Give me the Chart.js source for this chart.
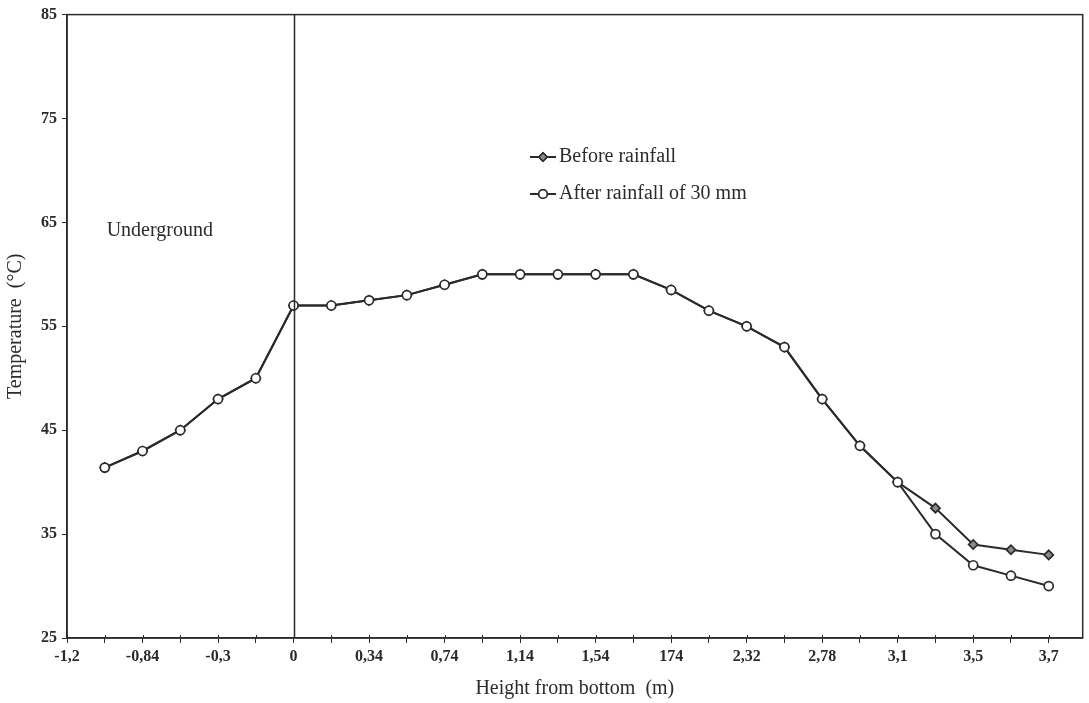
<!DOCTYPE html>
<html>
<head>
<meta charset="utf-8">
<script src="https://cdn.jsdelivr.net/npm/chart.js@4.4.0/dist/chart.umd.min.js"></script>
<style>
  html, body { margin: 0; padding: 0; background: #fff; }
  #wrap { width: 1089px; height: 703px; position: relative; }
</style>
</head>
<body>
<div id="wrap"><canvas id="chart"></canvas></div>
<script>
// tick labels, one on every second tick (tick 0 = -1,2)
const tickLabels = ['-1,2', '-0,84', '-0,3', '0', '0,34', '0,74', '1,14', '1,54', '174', '2,32', '2,78', '3,1', '3,5', '3,7'];

// readings, one per tick starting at tick 1
const afterRain = [41.4, 43, 45, 48, 50, 57, 57, 57.5, 58, 59, 60, 60, 60, 60, 60, 58.5, 56.5, 55, 53, 48, 43.5, 40, 35, 32, 31, 30];
const beforeRain = [41.4, 43, 45, 48, 50, 57, 57, 57.5, 58, 59, 60, 60, 60, 60, 60, 58.5, 56.5, 55, 53, 48, 43.5, 40, 37.5, 34, 33.5, 33];

const yTicks = [25, 35, 45, 55, 65, 75, 85];
const groundTick = 6; // tick where height = 0

const INK = '#2b2b2b';
const SERIF = '"Liberation Serif", "DejaVu Serif", serif';

const toPoints = arr => arr.map((v, i) => ({ x: i + 1, y: v }));

// frame, ground line, "Underground" label and the in-chart legend
const extras = {
  id: 'extras',
  afterDatasetsDraw(chart) {
    const { ctx, chartArea: a, scales: { x, y } } = chart;
    ctx.save();
    ctx.strokeStyle = INK;
    ctx.lineWidth = 1.5;
    ctx.strokeRect(a.left, a.top, a.right - a.left, a.bottom - a.top);

    // x tick marks poke a little above the axis line, as in the print
    ctx.lineWidth = 1;
    x.ticks.forEach(t => {
      const px = Math.round(x.getPixelForValue(t.value)) + 0.5;
      ctx.beginPath();
      ctx.moveTo(px, a.bottom - 3);
      ctx.lineTo(px, a.bottom);
      ctx.stroke();
    });

    ctx.lineWidth = 1.5;
    const gx = Math.round(x.getPixelForValue(groundTick)) + 0.5;
    ctx.beginPath();
    ctx.moveTo(gx, a.top);
    ctx.lineTo(gx, a.bottom);
    ctx.stroke();

    ctx.fillStyle = INK;
    ctx.font = '20px ' + SERIF;
    ctx.textBaseline = 'middle';
    ctx.fillText('Underground', x.getPixelForValue(1.05), y.getPixelForValue(64.2));

    // legend
    const items = [
      { text: 'Before rainfall', style: 'rectRot', fill: '#8a8a8a', r: 4.2 },
      { text: 'After rainfall of 30 mm', style: 'circle', fill: '#fff', r: 4.3 }
    ];
    const lx = 530, ly = [157, 194];
    items.forEach((it, i) => {
      const cy = ly[i];
      ctx.strokeStyle = INK;
      ctx.lineWidth = 2;
      ctx.beginPath();
      ctx.moveTo(lx, cy);
      ctx.lineTo(lx + 26, cy);
      ctx.stroke();
      ctx.fillStyle = it.fill;
      ctx.lineWidth = 1.6;
      Chart.helpers.drawPoint(ctx, { pointStyle: it.style, radius: it.r, borderWidth: 1.6 }, lx + 13, cy);
      ctx.fill();
      ctx.stroke();
      ctx.fillStyle = INK;
      ctx.font = '20px ' + SERIF;
      ctx.textBaseline = 'middle';
      ctx.fillText(it.text, lx + 29, cy);
    });
    ctx.restore();
  }
};

new Chart(document.getElementById('chart'), {
  type: 'line',
  data: {
    datasets: [
      {
        label: 'After rainfall of 30 mm',
        data: toPoints(afterRain),
        borderColor: INK,
        borderWidth: 2,
        pointStyle: 'circle',
        pointRadius: 4.5,
        pointBackgroundColor: '#fff',
        pointBorderColor: INK,
        pointBorderWidth: 1.7,
        tension: 0
      },
      {
        label: 'Before rainfall',
        data: toPoints(beforeRain),
        borderColor: INK,
        borderWidth: 2,
        pointStyle: 'rectRot',
        pointRadius: 4.6,
        pointBackgroundColor: '#8a8a8a',
        pointBorderColor: INK,
        pointBorderWidth: 1.7,
        tension: 0
      }
    ]
  },
  plugins: [extras],
  options: {
    responsive: true,
    maintainAspectRatio: false,
    animation: false,
    layout: { padding: { top: 12, right: 2, left: 0, bottom: 0 } },
    plugins: { legend: { display: false }, tooltip: { enabled: false } },
    scales: {
      x: {
        type: 'linear',
        min: 0,
        max: 26.9,
        afterBuildTicks(scale) {
          scale.ticks = tickLabels.flatMap((_, i) => [{ value: 2 * i }, { value: 2 * i + 1 }]).filter(t => t.value <= 26);
        },
        afterFit(scale) {
          scale.height = 65;
          scale.paddingRight = 0;
          scale.paddingLeft = 0;
        },
        ticks: {
          autoSkip: false,
          maxRotation: 0,
          padding: 4,
          color: INK,
          font: { family: SERIF, size: 16, weight: 'bold' },
          callback: v => (v % 2 === 0 ? tickLabels[v / 2] : '')
        },
        grid: { drawOnChartArea: false, drawTicks: true, tickLength: 5, color: INK },
        border: { color: INK, width: 1.5 },
        title: {
          display: true,
          text: 'Height from bottom  (m)',
          color: INK,
          font: { family: SERIF, size: 20 },
          padding: { top: 0, bottom: 2 }
        }
      },
      y: {
        min: 25,
        max: 85,
        afterBuildTicks(scale) {
          scale.ticks = yTicks.map(v => ({ value: v }));
        },
        afterFit(scale) { scale.width = 67; },
        ticks: {
          padding: 5,
          color: INK,
          font: { family: SERIF, size: 16, weight: 'bold' }
        },
        grid: { drawOnChartArea: false, drawTicks: true, tickLength: 5, color: INK },
        border: { color: INK, width: 1.5 },
        title: {
          display: true,
          text: 'Temperature  (°C)',
          color: INK,
          font: { family: SERIF, size: 20 },
          padding: { top: 4, bottom: 4 }
        }
      }
    }
  }
});
</script>
</body>
</html>
